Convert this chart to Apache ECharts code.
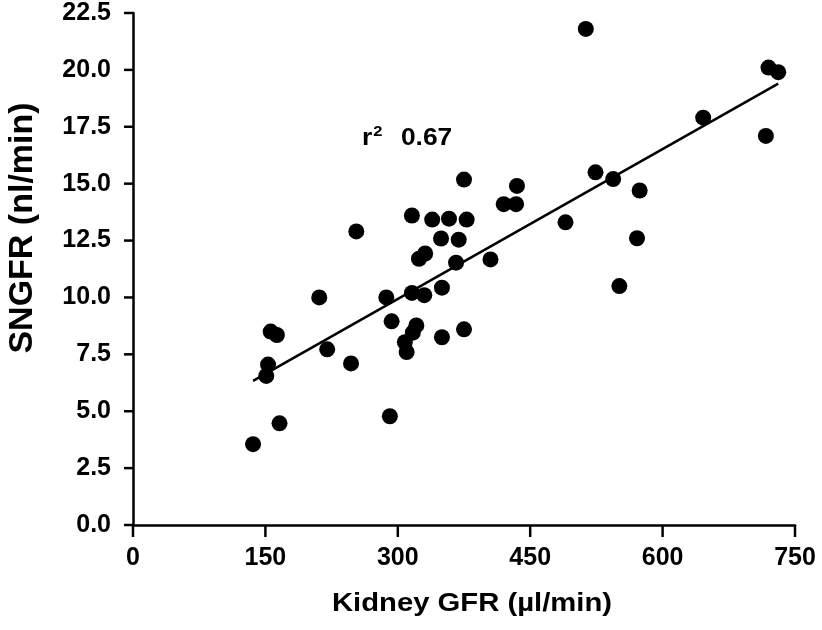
<!DOCTYPE html>
<html>
<head>
<meta charset="utf-8">
<script src="https://cdn.jsdelivr.net/npm/echarts@6/dist/echarts.min.js"></script>
<style>html,body{margin:0;padding:0;background:#fff}#c{width:822px;height:630px}</style>
</head>
<body>
<div id="c"></div>
<script>
// Kidney GFR (µl/min)
var kidneyGFR = [136,151,153,156,163,166,211,220,247,253,287,291,293,308,310,316,317,321,330,316,324,331,339,349,350,350,358,366,369,375,375,378,405,420,434,435,490,513,524,544,551,571,574,646,717,720,731];
// SNGFR (nl/min)
var sngfr = [3.55,6.55,7.05,8.5,8.35,4.47,10.0,7.72,7.1,12.9,10.0,4.78,8.95,8.03,7.6,10.2,8.45,8.77,10.1,13.6,11.7,11.93,13.42,12.59,10.43,8.25,13.46,11.53,12.54,15.18,8.6,13.42,11.67,14.1,14.1,14.9,13.3,21.8,15.5,15.2,10.5,12.6,14.7,17.9,17.1,20.1,19.9];
// regression line endpoints as drawn
var fitX = [136, 731];
var fitY = [6.33, 19.4];
var xTicks = [0,150,300,450,600,750];
var yTicks = [0,2.5,5,7.5,10,12.5,15,17.5,20,22.5];
var r2Text = '0.67';
var xTitle = 'Kidney GFR (µl/min)';
var yTitle = 'SNGFR (nl/min)';

var pts = kidneyGFR.map(function(v,i){return [v, sngfr[i]];});
var fitPts = fitX.map(function(v,i){return [v, fitY[i]];});
var FONT = '"Liberation Sans", Arial, Helvetica, sans-serif';

var chart = echarts.init(document.getElementById('c'), null, {renderer:'canvas'});
var baseGraphic = [
  {type:'text', x:23, y:228, rotation:Math.PI/2,
   style:{text:yTitle, fill:'#000', font:'bold 34px '+FONT, align:'center', verticalAlign:'middle'}},
  {type:'text', x:472, y:604, scaleX:1.17,
   style:{text:xTitle, fill:'#000', font:'bold 25px '+FONT, align:'center', verticalAlign:'middle'}},
  {type:'text', x:362, y:137, scaleX:1.1,
   style:{text:'{r|r}{s|2}{g|   }{r|'+r2Text+'}', fill:'#000', verticalAlign:'middle',
     rich:{r:{fontSize:24, fontWeight:'bold', fontFamily:FONT, verticalAlign:'bottom', lineHeight:26},
           s:{fontSize:15, fontWeight:'bold', fontFamily:FONT, verticalAlign:'top', lineHeight:26, padding:[0,0,11,1]},
           g:{fontSize:20, fontFamily:FONT}}}}
];
chart.setOption({
  backgroundColor:'#fff',
  animation:false,
  grid:{left:133, right:27, top:13, bottom:105},
  xAxis:{
    type:'value', min:xTicks[0], max:xTicks[xTicks.length-1], interval:150,
    axisLine:{show:true, onZero:false, lineStyle:{color:'#000', width:2.5}},
    axisTick:{show:false},
    splitLine:{show:false},
    axisLabel:{show:true, color:'#000', fontSize:25, fontWeight:'bold', fontFamily:FONT, margin:21}
  },
  yAxis:{
    type:'value', min:yTicks[0], max:yTicks[yTicks.length-1], interval:2.5,
    axisLine:{show:true, onZero:false, lineStyle:{color:'#000', width:2.5}},
    axisTick:{show:false},
    splitLine:{show:false},
    axisLabel:{show:true, color:'#000', fontSize:25, fontWeight:'bold', fontFamily:FONT, margin:22,
      formatter:function(v){return v.toFixed(1);}}
  },
  graphic:baseGraphic,
  series:[
    {type:'scatter', data:pts, symbol:'circle', symbolSize:16, itemStyle:{color:'#000', opacity:1}, z:3},
    {type:'line', data:fitPts, symbol:'none', lineStyle:{color:'#000', width:2.5}, z:2}
  ]
});
// tick marks placed through the chart's own scales
var tickGraphic = [];
xTicks.forEach(function(v){
  var p = chart.convertToPixel({gridIndex:0}, [v, yTicks[0]]);
  tickGraphic.push({type:'line', shape:{x1:p[0], y1:p[1], x2:p[0], y2:p[1]+12}, style:{stroke:'#000', lineWidth:2.5}, z:10});
});
yTicks.forEach(function(v){
  var p = chart.convertToPixel({gridIndex:0}, [xTicks[0], v]);
  tickGraphic.push({type:'line', shape:{x1:p[0]-9, y1:p[1], x2:p[0], y2:p[1]}, style:{stroke:'#000', lineWidth:2.5}, z:10});
});
chart.setOption({graphic: baseGraphic.concat(tickGraphic)});
</script>
</body>
</html>
